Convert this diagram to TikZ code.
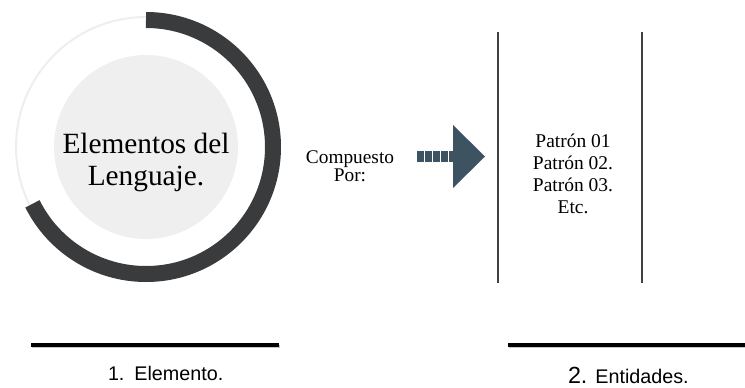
\documentclass[tikz,border=0pt]{standalone}
\usepackage{fontspec}
\setmainfont{Liberation Serif}
\newfontfamily\labelfont{Liberation Sans}
\usetikzlibrary{calc}

\definecolor{ringdark}{RGB}{58,59,61}
\definecolor{ringlight}{RGB}{238,238,238}
\definecolor{discfill}{RGB}{239,239,239}
\definecolor{arrowslate}{RGB}{62,83,97}
\definecolor{bargray}{RGB}{64,64,64}

\begin{document}
\begin{tikzpicture}[x=0.75pt, y=0.75pt, every node/.style={inner sep=0pt, outer sep=0pt}]

	% parameters
	\def\ringr{127}      % mid radius of the dark ring
	\def\ringw{12pt}     % width of the dark ring
	\def\discr{92}       % radius of the grey disc
	\def\bary{42}        % height of the bottom bars

	\useasboundingbox (0,0) rectangle (745,387);

	% disc and ring
	\coordinate (C) at (146,240);
	\fill[discfill] (C) circle (\discr);
	\draw[ringlight, line width=1.5pt] (C) circle (130);
	\draw[ringdark, line width=\ringw] ($(C)+(0,\ringr)$) arc[start angle=90, end angle=-153.4, radius=\ringr];
	% (base = last line)
	\node[font=\fontsize{22}{24}\selectfont, align=center, anchor=base] (elem) at (146,202) {Elementos del\\Lenguaje.};

	% composed of
	\node[font=\fontsize{14.5}{12}\selectfont, align=center, anchor=base] (comp) at (350,205.3) {Compuesto\\Por:};

	% striped arrow
	\foreach \i in {0,...,3}
		\fill[arrowslate] (417+8*\i,225) rectangle ++(6.5,11);
	\fill[arrowslate] (449,225) rectangle (454,236);
	\fill[arrowslate] (453,262) -- (485,230.5) -- (453,199) -- cycle;

	% entities column
	\draw[bargray, line width=1.5pt] (498,104) -- (498,355);
	\draw[bargray, line width=1.5pt] (642,104) -- (642,355);
	\node[font=\fontsize{14.6}{16.3}\selectfont, align=center, anchor=base] (patron) at (573,174) {Patrón 01\\Patrón 02.\\Patrón 03.\\Etc.};

	% bottom bars
	\draw[gray!45, line width=2pt] (32,\bary-1.5) -- (280,\bary-1.5);
	\draw[black, line width=3pt] (31,\bary) -- (279,\bary);
	\draw[gray!45, line width=2pt] (509,\bary-1.5) -- (745,\bary-1.5);
	\draw[black, line width=3pt] (508,\bary) -- (745,\bary);

	% captions
	\node[font=\labelfont\fontsize{14.8}{16}\selectfont, anchor=base west] (lbl1) at (108,7) {1.\hspace{7.5pt}Elemento.};
	\node[font=\labelfont\fontsize{14.8}{16}\selectfont, anchor=base west] (lbl2) at (568,4) {{\fontsize{17.5}{18}\selectfont 2.}\hspace{6pt}Entidades.};

\end{tikzpicture}
\end{document}
